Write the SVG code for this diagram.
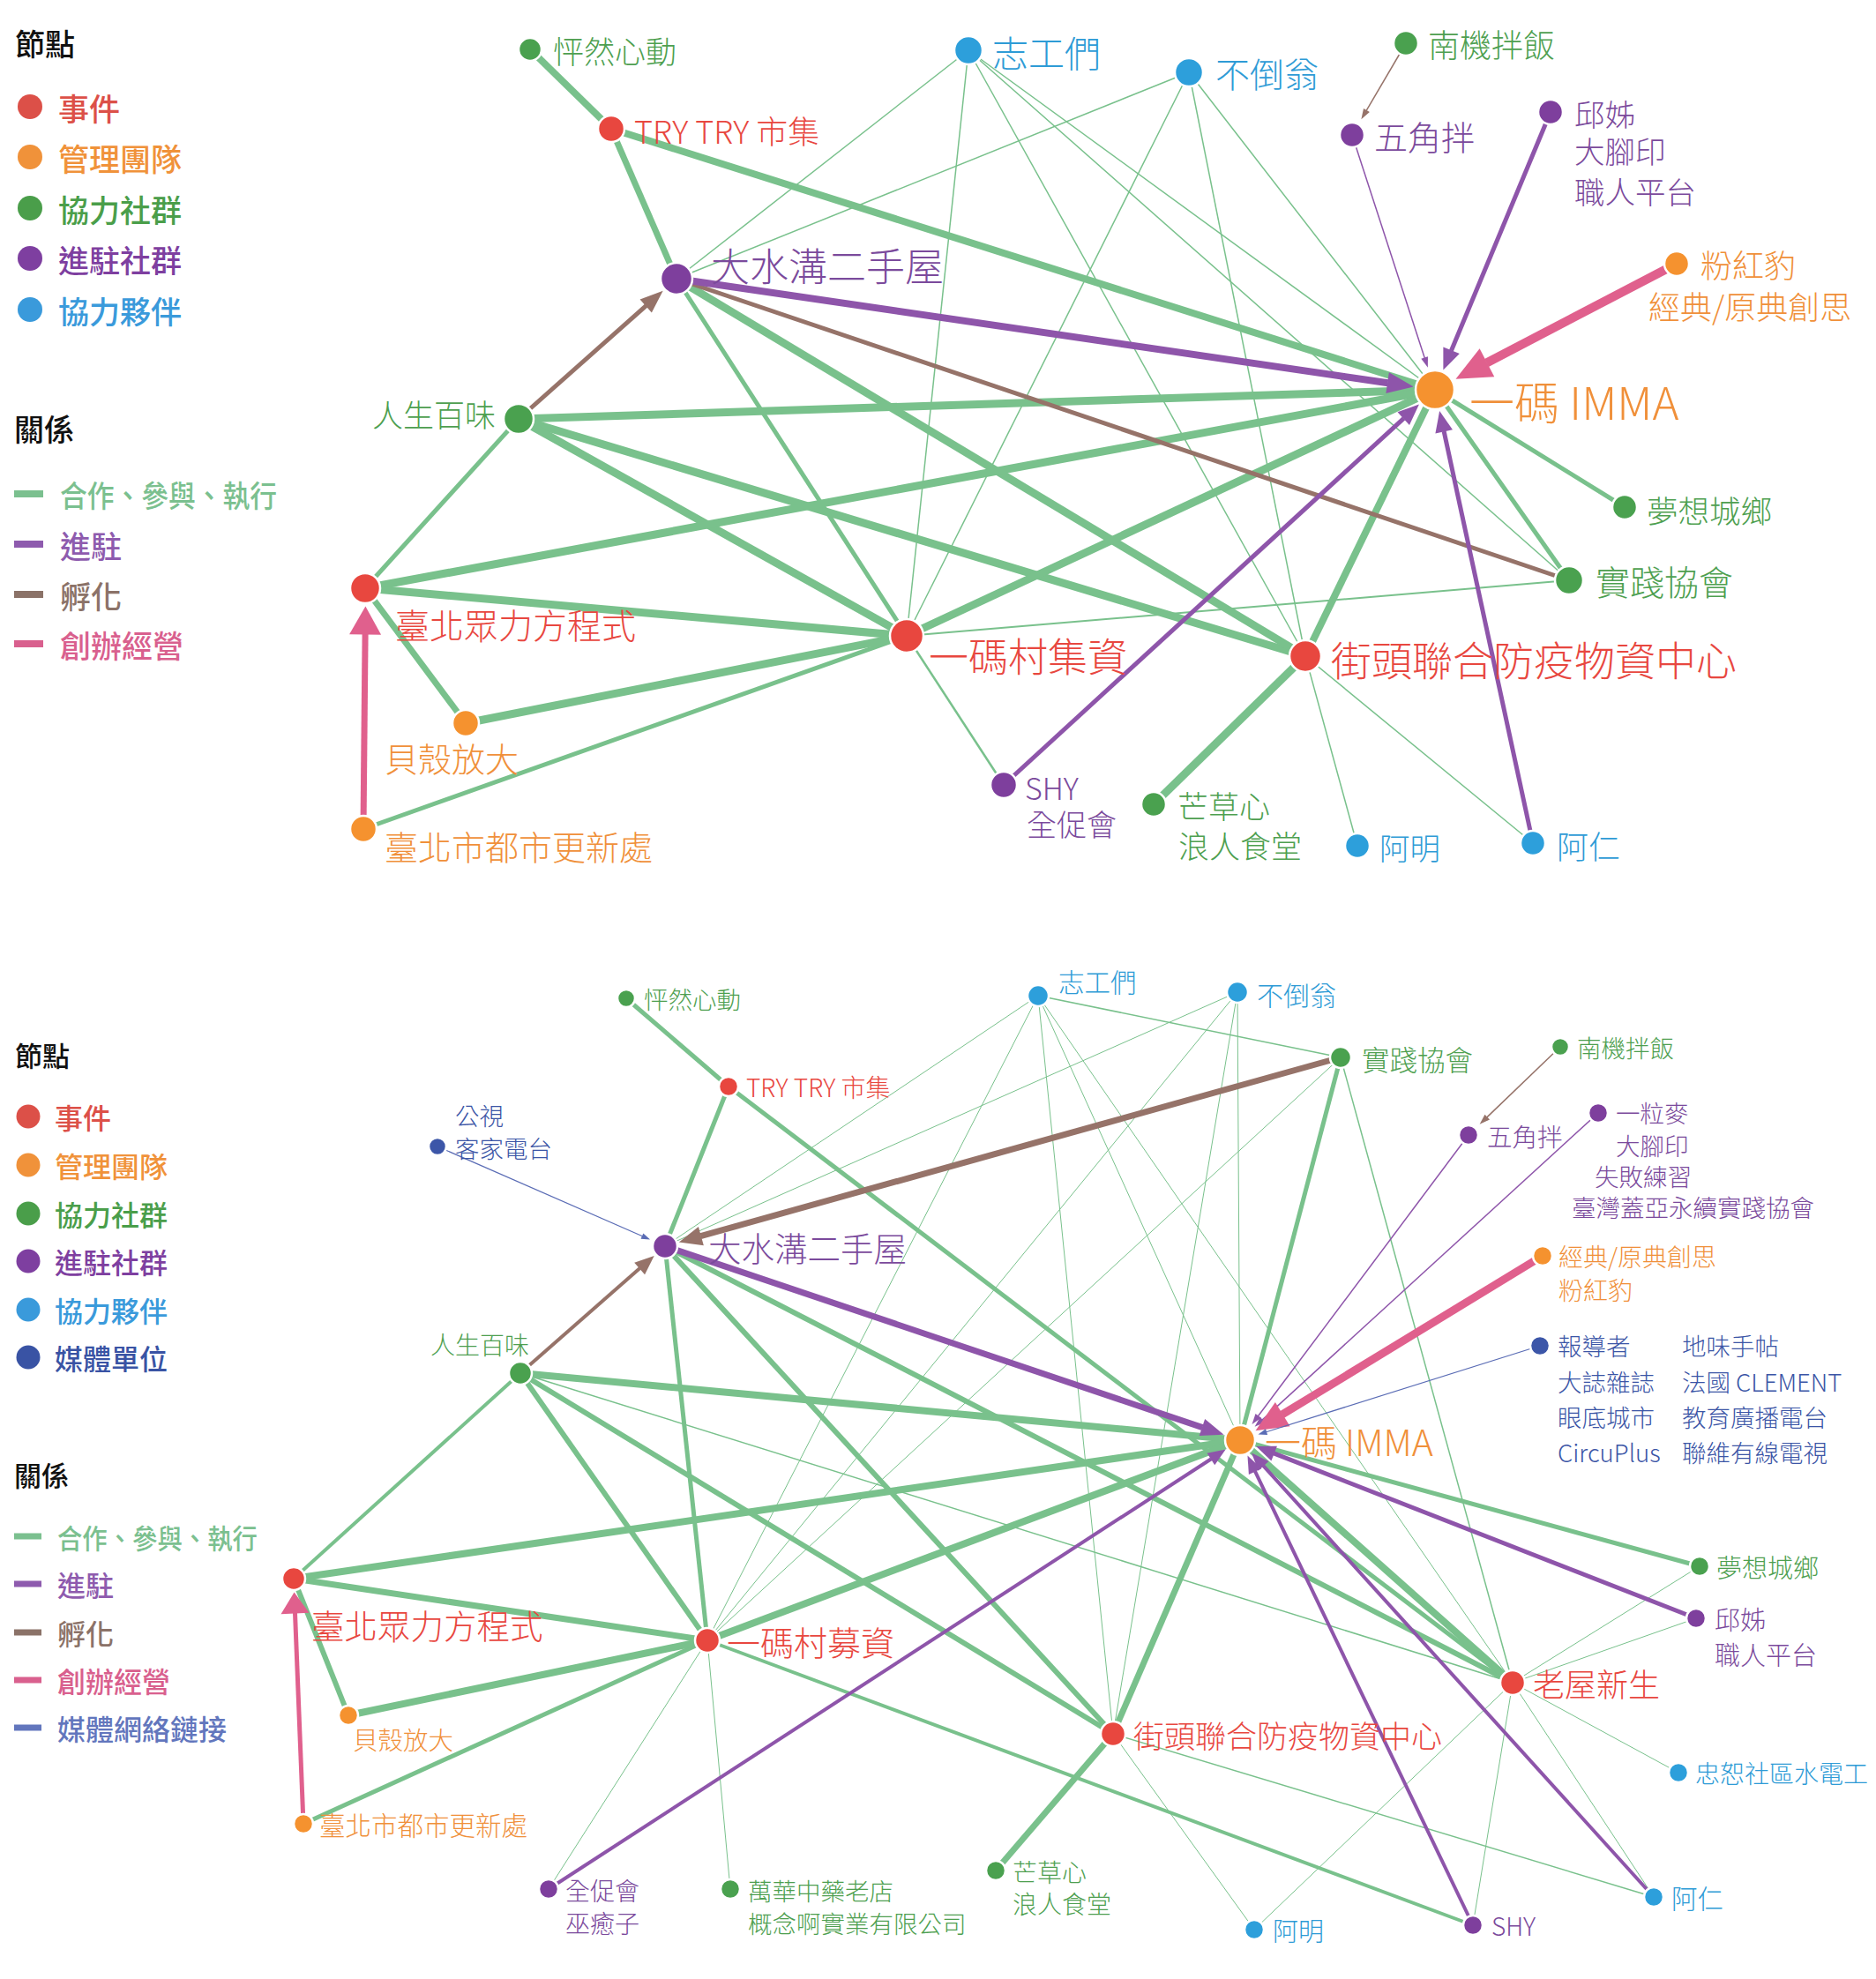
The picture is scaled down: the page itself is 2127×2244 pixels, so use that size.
<svg xmlns="http://www.w3.org/2000/svg" width="2127" height="2244" viewBox="0 0 2127 2244">
<style>
text{font-family:"Noto Sans CJK TC","Noto Sans CJK SC","Noto Sans",sans-serif;dominant-baseline:central;font-weight:300}
.h{font-weight:900;fill:#111}
.lg1 text{font-weight:500}
.g{stroke:#79C18C}
.p{stroke:#8E55AA}
.b{stroke:#967369}
.k{stroke:#E0608D}
.m{stroke:#5A6CB5}
circle.n{stroke:#fff;stroke-width:2.5}
.nr{fill:#E8473F}.no{fill:#F5922F}.ng{fill:#4AA14F}.np{fill:#7E3F9D}.nb{fill:#2D9FDB}.nm{fill:#3C56A8}
.tr{fill:#E8473F}.to{fill:#F0903A}.tg{fill:#4E9F50}.tp{fill:#7B4A9C}.tb{fill:#2E9BD6}.tm{fill:#3B55A6}
.lr{fill:#DC5048}.lo{fill:#F0923A}.lg{fill:#4A9E4A}.lp{fill:#7E3FA0}.lb{fill:#3A9ADB}.lm{fill:#3953A4}
.xg{fill:#7BC08F}.xp{fill:#8E5BAE}.xb{fill:#8B7268}.xk{fill:#D9608E}.xm{fill:#6276BD}
</style>
<defs>
<marker id="mPL" markerUnits="userSpaceOnUse" markerWidth="30" markerHeight="24" refX="0.5" refY="12" orient="auto" overflow="visible"><path d="M0,0L30,12L0,24Z" fill="#8E55AA"/></marker>
<marker id="mPM" markerUnits="userSpaceOnUse" markerWidth="24" markerHeight="20" refX="0.5" refY="10" orient="auto" overflow="visible"><path d="M0,0L24,10L0,20Z" fill="#8E55AA"/></marker>
<marker id="mPs" markerUnits="userSpaceOnUse" markerWidth="12" markerHeight="8" refX="0.5" refY="4" orient="auto" overflow="visible"><path d="M0,0L12,4L0,8Z" fill="#8E55AA"/></marker>
<marker id="mPL2" markerUnits="userSpaceOnUse" markerWidth="26" markerHeight="20" refX="0.5" refY="10" orient="auto" overflow="visible"><path d="M0,0L26,10L0,20Z" fill="#8E55AA"/></marker>
<marker id="mPM2" markerUnits="userSpaceOnUse" markerWidth="20" markerHeight="16" refX="0.5" refY="8" orient="auto" overflow="visible"><path d="M0,0L20,8L0,16Z" fill="#8E55AA"/></marker>
<marker id="mPM3" markerUnits="userSpaceOnUse" markerWidth="22" markerHeight="18" refX="0.5" refY="9" orient="auto" overflow="visible"><path d="M0,0L22,9L0,18Z" fill="#8E55AA"/></marker>
<marker id="mBT" markerUnits="userSpaceOnUse" markerWidth="26" markerHeight="20" refX="0.5" refY="10" orient="auto" overflow="visible"><path d="M0,0L26,10L0,20Z" fill="#967369"/></marker>
<marker id="mBs" markerUnits="userSpaceOnUse" markerWidth="12" markerHeight="8" refX="0.5" refY="4" orient="auto" overflow="visible"><path d="M0,0L12,4L0,8Z" fill="#967369"/></marker>
<marker id="mBL2" markerUnits="userSpaceOnUse" markerWidth="26" markerHeight="22" refX="0.5" refY="11" orient="auto" overflow="visible"><path d="M0,0L26,11L0,22Z" fill="#967369"/></marker>
<marker id="mBM2" markerUnits="userSpaceOnUse" markerWidth="22" markerHeight="18" refX="0.5" refY="9" orient="auto" overflow="visible"><path d="M0,0L22,9L0,18Z" fill="#967369"/></marker>
<marker id="mKL" markerUnits="userSpaceOnUse" markerWidth="40" markerHeight="36" refX="0.5" refY="18" orient="auto" overflow="visible"><path d="M0,0L40,18L0,36Z" fill="#E0608D"/></marker>
<marker id="mKM" markerUnits="userSpaceOnUse" markerWidth="32" markerHeight="36" refX="0.5" refY="18" orient="auto" overflow="visible"><path d="M0,0L32,18L0,36Z" fill="#E0608D"/></marker>
<marker id="mKL2" markerUnits="userSpaceOnUse" markerWidth="36" markerHeight="32" refX="0.5" refY="16" orient="auto" overflow="visible"><path d="M0,0L36,16L0,32Z" fill="#E0608D"/></marker>
<marker id="mKM2" markerUnits="userSpaceOnUse" markerWidth="24" markerHeight="32" refX="0.5" refY="16" orient="auto" overflow="visible"><path d="M0,0L24,16L0,32Z" fill="#E0608D"/></marker>
<marker id="mMs" markerUnits="userSpaceOnUse" markerWidth="10" markerHeight="7" refX="0.5" refY="3.5" orient="auto" overflow="visible"><path d="M0,0L10,3.5L0,7Z" fill="#5A6CB5"/></marker>
</defs>
<rect width="2127" height="2244" fill="#fff"/>

<!-- TOP LEGEND -->
<g id="legend-top" class="lg1">
<text x="17" y="48" font-size="34" class="h">節點</text>
<circle cx="34" cy="121" r="14" class="lr"/><text x="66" y="121" font-size="35" class="lr">事件</text>
<circle cx="34" cy="178" r="14" class="lo"/><text x="66" y="178" font-size="35" class="lo">管理團隊</text>
<circle cx="34" cy="236" r="14" class="lg"/><text x="66" y="236" font-size="35" class="lg">協力社群</text>
<circle cx="34" cy="293" r="14" class="lp"/><text x="66" y="293" font-size="35" class="lp">進駐社群</text>
<circle cx="34" cy="351" r="14" class="lb"/><text x="66" y="351" font-size="35" class="lb">協力夥伴</text>
<text x="16" y="485" font-size="34" class="h">關係</text>
<rect x="16" y="556" width="33" height="8" class="xg"/><text x="68" y="560" font-size="34" class="xg" textLength="246" lengthAdjust="spacingAndGlyphs">合作、參與、執行</text>
<rect x="16" y="613" width="33" height="8" class="xp"/><text x="68" y="617" font-size="35" class="xp">進駐</text>
<rect x="16" y="670" width="33" height="8" class="xb"/><text x="68" y="674" font-size="35" class="xb">孵化</text>
<rect x="16" y="726" width="33" height="8" class="xk"/><text x="68" y="730" font-size="35" class="xk">創辦經營</text>
</g>

<!-- BOTTOM LEGEND -->
<g id="legend-bottom" class="lg1">
<text x="17" y="1195" font-size="31" class="h">節點</text>
<circle cx="32" cy="1266" r="13.5" class="lr"/><text x="62" y="1266" font-size="32" class="lr">事件</text>
<circle cx="32" cy="1321" r="13.5" class="lo"/><text x="62" y="1321" font-size="32" class="lo">管理團隊</text>
<circle cx="32" cy="1376" r="13.5" class="lg"/><text x="62" y="1376" font-size="32" class="lg">協力社群</text>
<circle cx="32" cy="1430" r="13.5" class="lp"/><text x="62" y="1430" font-size="32" class="lp">進駐社群</text>
<circle cx="32" cy="1485" r="13.5" class="lb"/><text x="62" y="1485" font-size="32" class="lb">協力夥伴</text>
<circle cx="32" cy="1539" r="13.5" class="lm"/><text x="62" y="1539" font-size="32" class="lm">媒體單位</text>
<text x="16" y="1671" font-size="31" class="h">關係</text>
<rect x="16" y="1738.5" width="31" height="7" class="xg"/><text x="65" y="1742" font-size="31" class="xg" textLength="227" lengthAdjust="spacingAndGlyphs">合作、參與、執行</text>
<rect x="16" y="1792.5" width="31" height="7" class="xp"/><text x="65" y="1796" font-size="32" class="xp">進駐</text>
<rect x="16" y="1847.5" width="31" height="7" class="xb"/><text x="65" y="1851" font-size="32" class="xb">孵化</text>
<rect x="16" y="1901.5" width="31" height="7" class="xk"/><text x="65" y="1905" font-size="32" class="xk">創辦經營</text>
<rect x="16" y="1955.5" width="31" height="7" class="xm"/><text x="65" y="1959" font-size="32" class="xm">媒體網絡鏈接</text>
</g>

<!-- CONNECTORS -->
<g id="connectors">
<line x1="1098" y1="57" x2="767" y2="316" class="g" stroke-width="1.5"/>
<line x1="1348" y1="82" x2="767" y2="316" class="g" stroke-width="1.5"/>
<line x1="1098" y1="57" x2="1028" y2="721" class="g" stroke-width="1.5"/>
<line x1="1098" y1="57" x2="1480" y2="744" class="g" stroke-width="1.5"/>
<line x1="1098" y1="57" x2="1627" y2="442" class="g" stroke-width="1.5"/>
<line x1="1098" y1="57" x2="1779" y2="658" class="g" stroke-width="1.5"/>
<line x1="1348" y1="82" x2="1028" y2="721" class="g" stroke-width="1.5"/>
<line x1="1348" y1="82" x2="1480" y2="744" class="g" stroke-width="1.5"/>
<line x1="1348" y1="82" x2="1627" y2="442" class="g" stroke-width="1.5"/>
<line x1="1028" y1="721" x2="1138" y2="890" class="g" stroke-width="2.5"/>
<line x1="1028" y1="721" x2="1779" y2="658" class="g" stroke-width="2"/>
<line x1="1480" y1="744" x2="1539" y2="959" class="g" stroke-width="1.5"/>
<line x1="1480" y1="744" x2="1738" y2="956" class="g" stroke-width="1.5"/>
<line x1="601" y1="56" x2="693" y2="146" class="g" stroke-width="8"/>
<line x1="693" y1="146" x2="767" y2="316" class="g" stroke-width="7"/>
<line x1="693" y1="146" x2="1627" y2="442" class="g" stroke-width="8"/>
<line x1="588" y1="475" x2="414" y2="667" class="g" stroke-width="5"/>
<line x1="588" y1="475" x2="1627" y2="442" class="g" stroke-width="9"/>
<line x1="588" y1="475" x2="1480" y2="744" class="g" stroke-width="9"/>
<line x1="588" y1="475" x2="1028" y2="721" class="g" stroke-width="9"/>
<line x1="767" y1="316" x2="1028" y2="721" class="g" stroke-width="5"/>
<line x1="767" y1="316" x2="1480" y2="744" class="g" stroke-width="9"/>
<line x1="414" y1="667" x2="1627" y2="442" class="g" stroke-width="9"/>
<line x1="414" y1="667" x2="1028" y2="721" class="g" stroke-width="9"/>
<line x1="414" y1="667" x2="528" y2="820" class="g" stroke-width="7"/>
<line x1="412" y1="940" x2="1028" y2="721" class="g" stroke-width="5"/>
<line x1="528" y1="820" x2="1028" y2="721" class="g" stroke-width="9"/>
<line x1="1028" y1="721" x2="1627" y2="442" class="g" stroke-width="9"/>
<line x1="1480" y1="744" x2="1627" y2="442" class="g" stroke-width="8"/>
<line x1="1480" y1="744" x2="1308" y2="912" class="g" stroke-width="9"/>
<line x1="1627" y1="442" x2="1842" y2="575" class="g" stroke-width="5"/>
<line x1="1627" y1="442" x2="1779" y2="658" class="g" stroke-width="5"/>
<line x1="767" y1="316" x2="1779" y2="658" class="b" stroke-width="5"/>
<line x1="588" y1="475" x2="732.6" y2="346.6" class="b" stroke-width="5" marker-end="url(#mBT)"/>
<line x1="1594" y1="49" x2="1549.2" y2="125.4" class="b" stroke-width="1.5" marker-end="url(#mBs)"/>
<line x1="767" y1="316" x2="1573.6" y2="434.2" class="p" stroke-width="8" marker-end="url(#mPL)"/>
<line x1="1138" y1="890" x2="1591.6" y2="474.4" class="p" stroke-width="5" marker-end="url(#mPM)"/>
<line x1="1738" y1="956" x2="1637.1" y2="488.9" class="p" stroke-width="5" marker-end="url(#mPM)"/>
<line x1="1533" y1="153" x2="1615.3" y2="405.9" class="p" stroke-width="1.5" marker-end="url(#mPs)"/>
<line x1="1758" y1="127" x2="1645.4" y2="397.7" class="p" stroke-width="5" marker-end="url(#mPM)"/>
<line x1="1901" y1="299" x2="1685.5" y2="411.5" class="k" stroke-width="10" marker-end="url(#mKL)"/>
<line x1="412" y1="940" x2="414.1" y2="719" class="k" stroke-width="7" marker-end="url(#mKM)"/>

<line x1="1177" y1="1129" x2="754" y2="1413" class="g" stroke-width="1"/>
<line x1="1403" y1="1125" x2="754" y2="1413" class="g" stroke-width="1"/>
<line x1="1177" y1="1129" x2="802" y2="1860" class="g" stroke-width="1"/>
<line x1="1403" y1="1125" x2="802" y2="1860" class="g" stroke-width="1"/>
<line x1="1520" y1="1199" x2="802" y2="1860" class="g" stroke-width="1"/>
<line x1="1177" y1="1129" x2="1262" y2="1966" class="g" stroke-width="1"/>
<line x1="1403" y1="1125" x2="1262" y2="1966" class="g" stroke-width="1"/>
<line x1="1177" y1="1129" x2="1406" y2="1633" class="g" stroke-width="1"/>
<line x1="1403" y1="1125" x2="1406" y2="1633" class="g" stroke-width="1"/>
<line x1="1177" y1="1129" x2="1520" y2="1199" class="g" stroke-width="1.5"/>
<line x1="1177" y1="1129" x2="1715" y2="1908" class="g" stroke-width="1"/>
<line x1="1520" y1="1199" x2="1715" y2="1908" class="g" stroke-width="1.5"/>
<line x1="590" y1="1557" x2="1715" y2="1908" class="g" stroke-width="1.5"/>
<line x1="802" y1="1860" x2="622" y2="2142" class="g" stroke-width="1"/>
<line x1="802" y1="1860" x2="828" y2="2142" class="g" stroke-width="1"/>
<line x1="1262" y1="1966" x2="1422" y2="2188" class="g" stroke-width="1"/>
<line x1="1262" y1="1966" x2="1875" y2="2151" class="g" stroke-width="1.5"/>
<line x1="1715" y1="1908" x2="1927" y2="1776" class="g" stroke-width="1"/>
<line x1="1715" y1="1908" x2="1923" y2="1835" class="g" stroke-width="1"/>
<line x1="1715" y1="1908" x2="1903" y2="2010" class="g" stroke-width="1"/>
<line x1="1715" y1="1908" x2="1422" y2="2188" class="g" stroke-width="1"/>
<line x1="1715" y1="1908" x2="1670" y2="2183" class="g" stroke-width="1"/>
<line x1="1715" y1="1908" x2="1875" y2="2151" class="g" stroke-width="1"/>
<line x1="710" y1="1132" x2="826" y2="1232" class="g" stroke-width="5"/>
<line x1="826" y1="1232" x2="754" y2="1413" class="g" stroke-width="5"/>
<line x1="826" y1="1232" x2="1715" y2="1908" class="g" stroke-width="5"/>
<line x1="1520" y1="1199" x2="1406" y2="1633" class="g" stroke-width="5"/>
<line x1="754" y1="1413" x2="802" y2="1860" class="g" stroke-width="5"/>
<line x1="754" y1="1413" x2="1262" y2="1966" class="g" stroke-width="6"/>
<line x1="754" y1="1413" x2="1715" y2="1908" class="g" stroke-width="6"/>
<line x1="590" y1="1557" x2="333" y2="1790" class="g" stroke-width="4"/>
<line x1="590" y1="1557" x2="1406" y2="1633" class="g" stroke-width="8"/>
<line x1="590" y1="1557" x2="1262" y2="1966" class="g" stroke-width="6"/>
<line x1="590" y1="1557" x2="802" y2="1860" class="g" stroke-width="6"/>
<line x1="333" y1="1790" x2="1406" y2="1633" class="g" stroke-width="8"/>
<line x1="333" y1="1790" x2="802" y2="1860" class="g" stroke-width="7"/>
<line x1="333" y1="1790" x2="395" y2="1945" class="g" stroke-width="6"/>
<line x1="344" y1="2068" x2="802" y2="1860" class="g" stroke-width="5"/>
<line x1="395" y1="1945" x2="802" y2="1860" class="g" stroke-width="8"/>
<line x1="802" y1="1860" x2="1406" y2="1633" class="g" stroke-width="8"/>
<line x1="802" y1="1860" x2="1670" y2="2183" class="g" stroke-width="4"/>
<line x1="1262" y1="1966" x2="1406" y2="1633" class="g" stroke-width="7"/>
<line x1="1262" y1="1966" x2="1129" y2="2121" class="g" stroke-width="7"/>
<line x1="1406" y1="1633" x2="1715" y2="1908" class="g" stroke-width="8"/>
<line x1="1406" y1="1633" x2="1927" y2="1776" class="g" stroke-width="5"/>
<line x1="1520" y1="1199" x2="794.4" y2="1401.7" class="b" stroke-width="7" marker-end="url(#mBL2)"/>
<line x1="590" y1="1557" x2="725.5" y2="1438.1" class="b" stroke-width="4" marker-end="url(#mBM2)"/>
<line x1="1769" y1="1187" x2="1685.9" y2="1266.9" class="b" stroke-width="1.5" marker-end="url(#mBs)"/>
<line x1="754" y1="1413" x2="1363.4" y2="1618.6" class="p" stroke-width="7" marker-end="url(#mPL2)"/>
<line x1="622" y1="2142" x2="1373.3" y2="1654.2" class="p" stroke-width="4" marker-end="url(#mPM2)"/>
<line x1="1670" y1="2183" x2="1422.9" y2="1668.2" class="p" stroke-width="4" marker-end="url(#mPM2)"/>
<line x1="1875" y1="2151" x2="1432.2" y2="1661.9" class="p" stroke-width="4" marker-end="url(#mPM2)"/>
<line x1="1923" y1="1835" x2="1444.2" y2="1647.9" class="p" stroke-width="5" marker-end="url(#mPM3)"/>
<line x1="1665" y1="1287" x2="1426.4" y2="1605.8" class="p" stroke-width="1.5" marker-end="url(#mPs)"/>
<line x1="1812" y1="1262" x2="1431.1" y2="1610.1" class="p" stroke-width="1.5" marker-end="url(#mPs)"/>
<line x1="1749" y1="1424" x2="1453.8" y2="1603.9" class="k" stroke-width="9" marker-end="url(#mKL2)"/>
<line x1="344" y1="2068" x2="334.5" y2="1829" class="k" stroke-width="5" marker-end="url(#mKM2)"/>
<line x1="496" y1="1300" x2="728.4" y2="1401.8" class="m" stroke-width="1.2" marker-end="url(#mMs)"/>
<line x1="1746" y1="1526" x2="1435.6" y2="1623.7" class="m" stroke-width="1.2" marker-end="url(#mMs)"/>
</g>

<!-- TOP NODES -->
<g id="t-pengran"><circle class="n ng" cx="601" cy="56" r="13"/><text x="627" y="56" font-size="35" class="tg">怦然心動</text></g>
<g id="t-trytry"><circle class="n nr" cx="693" cy="146" r="15"/><text x="719" y="147" font-size="36" class="tr">TRY TRY 市集</text></g>
<g id="t-volunteers"><circle class="n nb" cx="1098" cy="57" r="16"/><text x="1125" y="58" font-size="41" class="tb">志工們</text></g>
<g id="t-budaoweng"><circle class="n nb" cx="1348" cy="82" r="16"/><text x="1378" y="82" font-size="39" class="tb">不倒翁</text></g>
<g id="t-nanji"><circle class="n ng" cx="1594" cy="49" r="14"/><text x="1619" y="49" font-size="36" class="tg">南機拌飯</text></g>
<g id="t-wujiao"><circle class="n np" cx="1533" cy="153" r="14"/><text x="1558" y="153" font-size="38" class="tp">五角拌</text></g>
<g id="t-qiujie"><circle class="n np" cx="1758" cy="127" r="14"/><text font-size="34.5" class="tp"><tspan x="1785" y="128">邱姊</tspan><tspan x="1785" y="170">大腳印</tspan><tspan x="1785" y="216">職人平台</tspan></text></g>
<g id="t-pinkpanther"><circle class="n no" cx="1901" cy="299" r="14"/><text font-size="36" class="to"><tspan x="1928" y="299">粉紅豹</tspan><tspan x="1869" y="346">經典/原典創思</tspan></text></g>
<g id="t-dashuigou"><circle class="n np" cx="767" cy="316" r="18"/><text x="806" y="300" font-size="44" class="tp">大水溝二手屋</text></g>
<g id="t-imma"><circle class="n no" cx="1627" cy="442" r="22"/><text x="1666" y="454" font-size="51" class="to">一碼 IMMA</text></g>
<g id="t-rensheng"><circle class="n ng" cx="588" cy="475" r="17"/><text x="562" y="468" font-size="35" class="tg" text-anchor="end">人生百味</text></g>
<g id="t-mengxiang"><circle class="n ng" cx="1842" cy="575" r="14"/><text x="1867" y="577" font-size="35.5" class="tg">夢想城鄉</text></g>
<g id="t-shijian"><circle class="n ng" cx="1779" cy="658" r="16"/><text x="1809" y="658" font-size="39" class="tg">實踐協會</text></g>
<g id="t-zhongli"><circle class="n nr" cx="414" cy="667" r="17"/><text x="448" y="707" font-size="39" class="tr">臺北眾力方程式</text></g>
<g id="t-cunjizi"><circle class="n nr" cx="1028" cy="721" r="19"/><text x="1053" y="742" font-size="45" class="tr">一碼村集資</text></g>
<g id="t-jietou"><circle class="n nr" cx="1480" cy="744" r="18"/><text x="1509" y="746" font-size="46" class="tr">街頭聯合防疫物資中心</text></g>
<g id="t-beike"><circle class="n no" cx="528" cy="820" r="15"/><text x="436" y="858" font-size="38" class="to">貝殼放大</text></g>
<g id="t-gengxin"><circle class="n no" cx="412" cy="940" r="15"/><text x="436" y="958" font-size="38" class="to">臺北市都市更新處</text></g>
<g id="t-shy"><circle class="n np" cx="1138" cy="890" r="15"/><text font-size="34" class="tp"><tspan x="1162" y="892">SHY</tspan><tspan x="1164" y="933">全促會</tspan></text></g>
<g id="t-mangcao"><circle class="n ng" cx="1308" cy="912" r="14"/><text font-size="35" class="tg"><tspan x="1335" y="912">芒草心</tspan><tspan x="1336" y="957">浪人食堂</tspan></text></g>
<g id="t-aming"><circle class="n nb" cx="1539" cy="959" r="14"/><text x="1564" y="960" font-size="34.5" class="tb">阿明</text></g>
<g id="t-aren"><circle class="n nb" cx="1738" cy="956" r="14"/><text x="1765" y="958" font-size="36" class="tb">阿仁</text></g>

<!-- BOTTOM NODES -->
<g id="b-pengran"><circle class="n ng" cx="710" cy="1132" r="10"/><text x="730" y="1132" font-size="27.5" class="tg">怦然心動</text></g>
<g id="b-volunteers"><circle class="n nb" cx="1177" cy="1129" r="12"/><text x="1200" y="1112" font-size="29.5" class="tb">志工們</text></g>
<g id="b-budaoweng"><circle class="n nb" cx="1403" cy="1125" r="12"/><text x="1425" y="1127" font-size="30" class="tb">不倒翁</text></g>
<g id="b-shijian"><circle class="n ng" cx="1520" cy="1199" r="12"/><text x="1544" y="1200" font-size="31.5" class="tg">實踐協會</text></g>
<g id="b-nanji"><circle class="n ng" cx="1769" cy="1187" r="10"/><text x="1788" y="1187" font-size="27.5" class="tg">南機拌飯</text></g>
<g id="b-trytry"><circle class="n nr" cx="826" cy="1232" r="11"/><text x="846" y="1232" font-size="28" class="tr">TRY TRY 市集</text></g>
<g id="b-pts"><circle class="n nm" cx="496" cy="1300" r="10"/><text font-size="27.5" class="tm"><tspan x="516" y="1264">公視</tspan><tspan x="516" y="1301">客家電台</tspan></text></g>
<g id="b-wujiao"><circle class="n np" cx="1665" cy="1287" r="11"/><text x="1686" y="1287" font-size="28.5" class="tp">五角拌</text></g>
<g id="b-yilimai"><circle class="n np" cx="1812" cy="1262" r="11"/><text font-size="27.5" class="tp"><tspan x="1832" y="1261">一粒麥</tspan><tspan x="1832" y="1298">大腳印</tspan><tspan x="1808" y="1333">失敗練習</tspan><tspan x="1782" y="1368">臺灣蓋亞永續實踐協會</tspan></text></g>
<g id="b-classic"><circle class="n no" cx="1749" cy="1424" r="11"/><text font-size="28" class="to"><tspan x="1767" y="1424">經典/原典創思</tspan><tspan x="1767" y="1462">粉紅豹</tspan></text></g>
<g id="b-media"><circle class="n nm" cx="1746" cy="1526" r="11"/>
<text font-size="27.5" class="tm"><tspan x="1766" y="1525">報導者</tspan><tspan x="1766" y="1566">大誌雜誌</tspan><tspan x="1766" y="1606">眼底城市</tspan><tspan x="1766" y="1646">CircuPlus</tspan></text>
<text font-size="27.5" class="tm"><tspan x="1907" y="1525">地味手帖</tspan><tspan x="1907" y="1566">法國 CLEMENT</tspan><tspan x="1907" y="1606">教育廣播電台</tspan><tspan x="1907" y="1646">聯維有線電視</tspan></text></g>
<g id="b-dashuigou"><circle class="n np" cx="754" cy="1413" r="14"/><text x="803" y="1413" font-size="37.5" class="tp">大水溝二手屋</text></g>
<g id="b-rensheng"><circle class="n ng" cx="590" cy="1557" r="13"/><text x="600" y="1524" font-size="28" class="tg" text-anchor="end">人生百味</text></g>
<g id="b-imma"><circle class="n no" cx="1406" cy="1633" r="17"/><text x="1434" y="1633" font-size="41" class="to">一碼 IMMA</text></g>
<g id="b-zhongli"><circle class="n nr" cx="333" cy="1790" r="13"/><text x="353" y="1841" font-size="37.5" class="tr">臺北眾力方程式</text></g>
<g id="b-cunmuzi"><circle class="n nr" cx="802" cy="1860" r="14"/><text x="824" y="1860" font-size="38" class="tr">一碼村募資</text></g>
<g id="b-mengxiang"><circle class="n ng" cx="1927" cy="1776" r="11"/><text x="1946" y="1776" font-size="29" class="tg">夢想城鄉</text></g>
<g id="b-qiujie"><circle class="n np" cx="1923" cy="1835" r="11"/><text font-size="29" class="tp"><tspan x="1944" y="1835">邱姊</tspan><tspan x="1944" y="1875">職人平台</tspan></text></g>
<g id="b-laowu"><circle class="n nr" cx="1715" cy="1908" r="14"/><text x="1738" y="1908" font-size="36" class="tr">老屋新生</text></g>
<g id="b-jietou"><circle class="n nr" cx="1262" cy="1966" r="14"/><text x="1285" y="1966" font-size="35" class="tr">街頭聯合防疫物資中心</text></g>
<g id="b-beike"><circle class="n no" cx="395" cy="1945" r="11"/><text x="400" y="1971" font-size="28.5" class="to">貝殼放大</text></g>
<g id="b-gengxin"><circle class="n no" cx="344" cy="2068" r="11"/><text x="362" y="2068" font-size="29.5" class="to">臺北市都市更新處</text></g>
<g id="b-zhongshu"><circle class="n nb" cx="1903" cy="2010" r="11"/><text x="1922" y="2010" font-size="28" class="tb">忠恕社區水電工</text></g>
<g id="b-quancu"><circle class="n np" cx="622" cy="2142" r="11"/><text font-size="28" class="tp"><tspan x="641" y="2143">全促會</tspan><tspan x="641" y="2180">巫癒子</tspan></text></g>
<g id="b-wanhua"><circle class="n ng" cx="828" cy="2142" r="11"/><text font-size="27.5" class="tg"><tspan x="848" y="2143">萬華中藥老店</tspan><tspan x="848" y="2180">概念啊實業有限公司</tspan></text></g>
<g id="b-mangcao"><circle class="n ng" cx="1129" cy="2121" r="11"/><text font-size="28" class="tg"><tspan x="1148" y="2122">芒草心</tspan><tspan x="1148" y="2158">浪人食堂</tspan></text></g>
<g id="b-aming"><circle class="n nb" cx="1422" cy="2188" r="11"/><text x="1443" y="2188" font-size="29" class="tb">阿明</text></g>
<g id="b-shy"><circle class="n np" cx="1670" cy="2183" r="11"/><text x="1691" y="2183" font-size="28" class="tp">SHY</text></g>
<g id="b-aren"><circle class="n nb" cx="1875" cy="2151" r="11"/><text x="1895" y="2151" font-size="29.5" class="tb">阿仁</text></g>
</svg>
